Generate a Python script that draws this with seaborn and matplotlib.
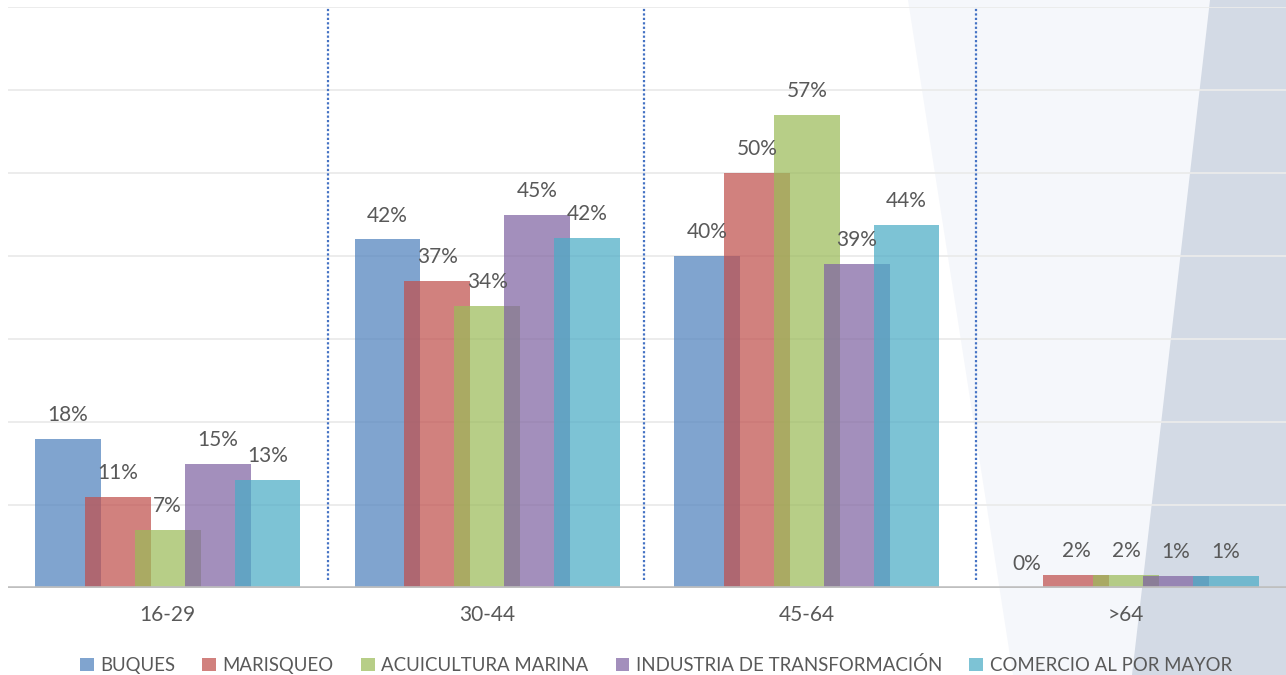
import numpy as np
import pandas as pd
import seaborn as sns
import matplotlib.pyplot as plt
from matplotlib.patches import Patch

# age groups and share of workers per sector (%)
age_groups = ["16-29", "30-44", "45-64", ">64"]
sectors = ["BUQUES", "MARISQUEO", "ACUICULTURA MARINA",
           "INDUSTRIA DE TRANSFORMACIÓN", "COMERCIO AL POR MAYOR"]
buques = [18, 42, 40, 0]
marisqueo = [11, 37, 50, 1.6]
acuicultura = [7, 34, 57, 1.6]
industria = [15, 45, 39, 1.4]
comercio = [13, 42.2, 43.7, 1.4]
colors = ["#4F81BD", "#C0504D", "#9BBB59", "#8064A2", "#4BACC6"]

df = pd.DataFrame({
    "edad": age_groups,
    "BUQUES": buques,
    "MARISQUEO": marisqueo,
    "ACUICULTURA MARINA": acuicultura,
    "INDUSTRIA DE TRANSFORMACIÓN": industria,
    "COMERCIO AL POR MAYOR": comercio,
})
long_df = df.melt(id_vars="edad", var_name="sector", value_name="pct")

sns.set_style("white")
plt.rcParams["font.family"] = ["Lato", "DejaVu Sans"]
text_color = "#595959"

fig = plt.figure(figsize=(12.86, 6.75), dpi=100)
fig.patch.set_facecolor("white")

# decorative background shapes, in a full-figure axes behind the chart
W, H = 1286, 675
bg = fig.add_axes([0, 0, 1, 1], zorder=-1)
bg.set_xlim(0, W)
bg.set_ylim(H, 0)
bg.axis("off")
bg.fill([908, W, W, 1013], [0, 0, H, H], color="#F5F7FB", lw=0)
bg.fill([1210, W, W, 1132], [0, 0, H, H], color="#D3DAE5", lw=0)

ax = fig.add_axes([8 / W, 1 - 588 / H, 1 - 8 / W, (588 - 7) / H], zorder=1)
ax.set_facecolor("none")

sns.barplot(data=long_df, x="edad", y="pct", hue="sector", hue_order=sectors,
            palette=colors, width=0.78, saturation=1, alpha=0.72,
            ax=ax, legend=False, zorder=2)

# overlapping bars: widen each bar around its centre
series = [buques, marisqueo, acuicultura, industria, comercio]
for cont, vals in zip(ax.containers, series):
    for bar in cont:
        c = bar.get_x() + bar.get_width() / 2
        bar.set_width(0.206)
        bar.set_x(c - 0.103)
        bar.set_edgecolor("none")
    ax.bar_label(cont, labels=[f"{v:.0f}%" for v in vals], padding=10,
                 fontsize=15, color=text_color)

ax.set_xlim(-0.5, 3.5)
ax.set_ylim(0, 70)
ax.set_yticks(np.arange(0, 71, 10))
ax.set_yticklabels([])
ax.yaxis.grid(True, color="#EBEBEB", lw=1.3, zorder=1)
ax.set_axisbelow(True)
ax.axhline(0, color="#BFBFBF", lw=2.6, zorder=3)
ax.vlines([0.5, 1.49, 2.53], 1, 70, colors="#4472C4", linestyles=(0, (1, 1)),
          lw=1.6, zorder=1)

for s in ax.spines.values():
    s.set_visible(False)
ax.tick_params(axis="both", length=0)
ax.tick_params(axis="x", pad=12, labelsize=15, labelcolor=text_color)
ax.set_xlabel("")
ax.set_ylabel("")

handles = [Patch(facecolor=c, alpha=0.72, edgecolor="none") for c in colors]
fig.legend(handles, sectors, loc="center", bbox_to_anchor=(0.51, 1 - 665 / H),
           ncol=5, frameon=False, fontsize=13.4, handlelength=0.75,
           handleheight=0.75, handletextpad=0.35, columnspacing=1.45,
           labelcolor=text_color)

fig.savefig("out.png", dpi=100)
